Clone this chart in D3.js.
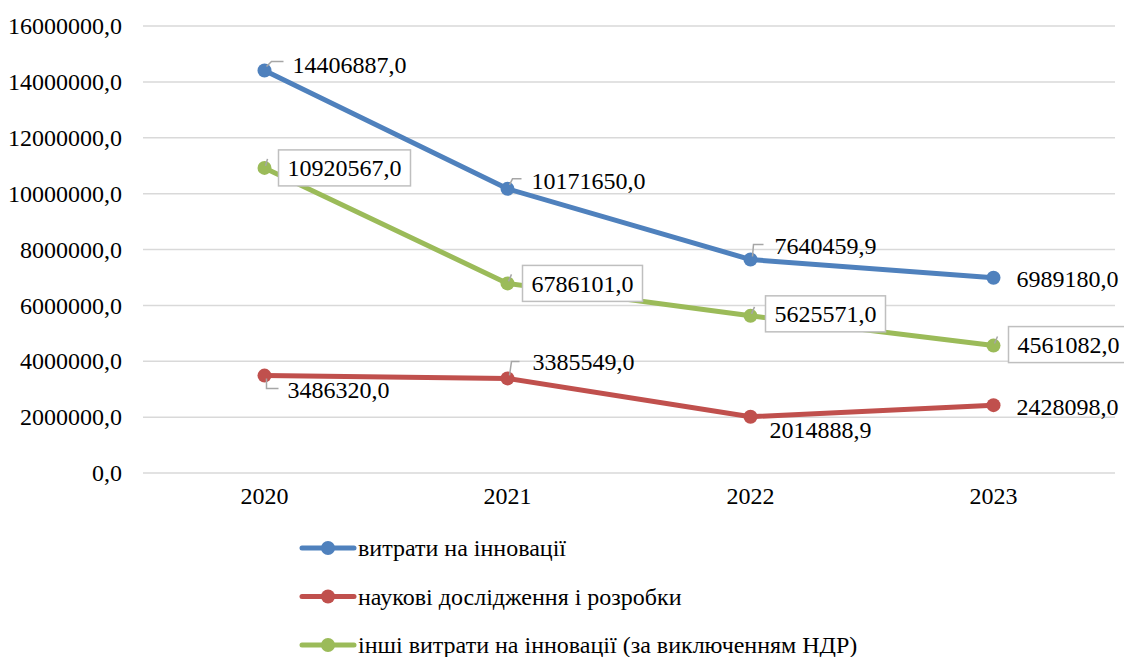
<!DOCTYPE html>
<html><head><meta charset="utf-8">
<script src="https://cdn.jsdelivr.net/npm/d3@7"></script>
<style>
body{margin:0;background:#fff;}
svg{font-family:"Liberation Serif","Times New Roman",serif;}
</style></head>
<body><svg id="c" width="1124" height="657"></svg>
<script>
const categories = ["2020","2021","2022","2023"];
const seriesNames = ["витрати на інновації","наукові дослідження і розробки","інші витрати на інновації (за виключенням НДР)"];
const innovation = [14406887.0, 10171650.0, 7640459.9, 6989180.0];
const research = [3486320.0, 3385549.0, 2014888.9, 2428098.0];
const other = [10920567.0, 6786101.0, 5625571.0, 4561082.0];
const yTicks = [0,2000000,4000000,6000000,8000000,10000000,12000000,14000000,16000000];

const colors = ["#4F81BD","#C0504D","#9BBB59"];
const seriesData = [innovation, research, other];

// label placement relative to the point
const labelLayout = [
  [ {dx:28,dy:-6,leader:[[2,-4],[7,-9],[19,-9]]}, {dx:24,dy:-8,leader:[[2,-4],[5,-10],[14,-10]]}, {dx:24,dy:-14,leader:[[2,-3],[3,-15],[13,-15]]}, {dx:23,dy:1} ],
  [ {dx:23,dy:14,leader:[[2,3],[2,13],[14,13]]}, {dx:25,dy:-17,leader:[[2,-3],[4,-17],[12,-17]]}, {dx:19,dy:13}, {dx:23,dy:1} ],
  [ {dx:23,dy:0,box:true,leader:[[1,-2],[3,-9]]}, {dx:24,dy:0,box:true,leader:[[1,-2],[4,-9]]}, {dx:24,dy:-2,box:true,leader:[[1,-2],[4,-9]]}, {dx:24,dy:-1,box:true,leader:[[1,-2],[4,-9]]} ]
];

const svg = d3.select("#c");
const x = d3.scaleBand().domain(categories).range([143,1115]);
const y = d3.scaleLinear().domain([0,16000000]).range([473,26]);
const fmt = v => d3.format(".1f")(v).replace(".", ",");
const FS = 24;
const FF = "Liberation Serif, Times New Roman, serif";

// gridlines
svg.append("g").selectAll("line").data(yTicks).join("line")
  .attr("x1",143).attr("x2",1115)
  .attr("y1",d=>y(d)).attr("y2",d=>y(d))
  .attr("stroke","#d9d9d9").attr("stroke-width",1.5);

// y axis
const yAxis = d3.axisLeft(y).tickValues(yTicks).tickFormat(fmt).tickSize(0).tickPadding(0);
const yg = svg.append("g").attr("transform","translate(122,0)").call(yAxis).attr("font-family",FF).attr("font-size",FS);
yg.select(".domain").remove();
yg.selectAll("text").attr("fill","#000");

// x axis
const xAxis = d3.axisBottom(x).tickSize(0).tickPadding(0);
const xg = svg.append("g").attr("transform","translate(0,487)").call(xAxis).attr("font-family",FF).attr("font-size",FS);
xg.select(".domain").remove();
xg.selectAll("text").attr("fill","#000");

const cx = d => x(d)+x.bandwidth()/2;
const line = d3.line().x((d,i)=>cx(categories[i])).y(d=>y(d));

seriesData.forEach((vals,si)=>{
  const g = svg.append("g");
  g.append("path").datum(vals).attr("d",line).attr("fill","none")
    .attr("stroke",colors[si]).attr("stroke-width",5).attr("stroke-linejoin","round").attr("stroke-linecap","round");
  g.selectAll("circle").data(vals).join("circle")
    .attr("cx",(d,i)=>cx(categories[i])).attr("cy",d=>y(d)).attr("r",7).attr("fill",colors[si]);
});

// labels
seriesData.forEach((vals,si)=>{
  vals.forEach((v,i)=>{
    const px = cx(categories[i]), py = y(v);
    const L = labelLayout[si][i];
    const lg = svg.append("g");
    if(L.leader){
      lg.append("polyline")
        .attr("points",L.leader.map(p=>(px+p[0])+","+(py+p[1])).join(" "))
        .attr("fill","none").attr("stroke","#a6a6a6").attr("stroke-width",1.5);
    }
    const rect = L.box ? lg.append("rect") : null;
    const tx = px+L.dx, ty = py+L.dy;
    const t = lg.append("text").attr("x",tx).attr("y",ty).attr("dy","0.35em")
      .attr("font-size",FS).attr("font-family",FF).attr("fill","#000").text(fmt(v));
    if(rect){
      const bb = t.node().getBBox();
      rect.attr("x",bb.x-9).attr("y",ty-18).attr("width",bb.width+18).attr("height",36)
        .attr("fill","#fff").attr("stroke","#bfbfbf").attr("stroke-width",1.5);
    }
  });
});

// legend
const leg = svg.append("g");
seriesNames.forEach((n,i)=>{
  const ly = 548 + i*48.5;
  leg.append("line").attr("x1",302).attr("x2",354).attr("y1",ly).attr("y2",ly)
    .attr("stroke",colors[i]).attr("stroke-width",5).attr("stroke-linecap","round");
  leg.append("circle").attr("cx",328).attr("cy",ly).attr("r",7).attr("fill",colors[i]);
  leg.append("text").attr("x",358).attr("y",ly).attr("dy","0.35em").attr("font-size",FS).attr("font-family",FF).attr("fill","#000").text(n);
});
</script></body></html>
